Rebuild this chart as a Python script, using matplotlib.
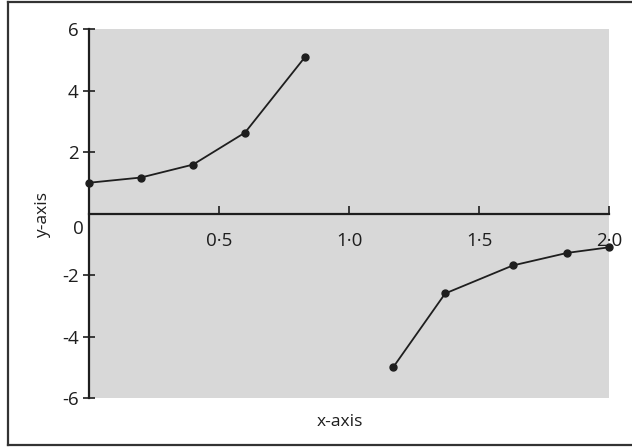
import matplotlib
matplotlib.use("Agg")
import matplotlib.pyplot as plt
from matplotlib.lines import Line2D

plt.rcParams['font.family'] = ['Open Sans', 'DejaVu Sans']

# left branch (before the asymptote near x = 1)
x_left = [0.0, 0.2, 0.4, 0.6, 0.83]
y_left = [1.0, 1.17, 1.59, 2.63, 5.08]

# right branch
x_right = [1.17, 1.37, 1.63, 1.84, 2.0]
y_right = [-5.0, -2.6, -1.69, -1.28, -1.1]

x_ticks = [0.5, 1.0, 1.5, 2.0]
x_tick_labels = ['0·5', '1·0', '1·5', '2·0']
y_ticks = [-6, -4, -2, 2, 4, 6]
y_tick_labels = ['-6', '-4', '-2', '2', '4', '6']

fig = plt.figure(figsize=(6.32, 4.47), dpi=100)
ax = fig.add_axes([89 / 632, 1 - 398 / 447, 520 / 632, 369 / 447])
ax.set_facecolor('#d8d8d8')

for xs, ys in [(x_left, y_left), (x_right, y_right)]:
    ax.plot(xs, ys, color='#1e1e1e', lw=1.3, marker='o', ms=5,
            clip_on=False, zorder=3)

ax.set_xlim(0, 2.0)
ax.set_ylim(-6, 6)

# axes drawn through the origin
ax.spines['left'].set_position(('data', 0))
ax.spines['bottom'].set_position(('data', 0))
ax.spines['top'].set_visible(False)
ax.spines['right'].set_visible(False)
for s in ['left', 'bottom']:
    ax.spines[s].set_linewidth(1.6)
    ax.spines[s].set_color('#1e1e1e')
    ax.spines[s].set_zorder(4)

ax.set_xticks(x_ticks)
ax.set_xticklabels(x_tick_labels)
ax.set_yticks(y_ticks)
ax.set_yticklabels(y_tick_labels)
ax.tick_params(axis='x', direction='in', length=6, width=1.2, pad=13,
               labelsize=13.5, colors='#1e1e1e')
ax.tick_params(axis='y', direction='inout', length=9, width=1.2, pad=3,
               labelsize=13.5, colors='#1e1e1e')

ax.text(-0.04, -0.5, '0', ha='center', va='center', fontsize=13.5,
        color='#1e1e1e')

fig.text(43 / 632, 1 - 215 / 447, 'y-axis', rotation=90, ha='center',
         va='center', fontsize=12.5, color='#1e1e1e')
fig.text(340 / 632, 1 - 422 / 447, 'x-axis', ha='center', va='center',
         fontsize=12.5, color='#1e1e1e')

# page frame around the figure
for xs, ys in [([8, 8], [2, 445]), ([8, 632], [2, 2]), ([8, 632], [445, 445])]:
    fig.add_artist(Line2D([v / 632 for v in xs], [1 - v / 447 for v in ys],
                          color='#333333', lw=1.6))

fig.savefig('out.png', dpi=100)
